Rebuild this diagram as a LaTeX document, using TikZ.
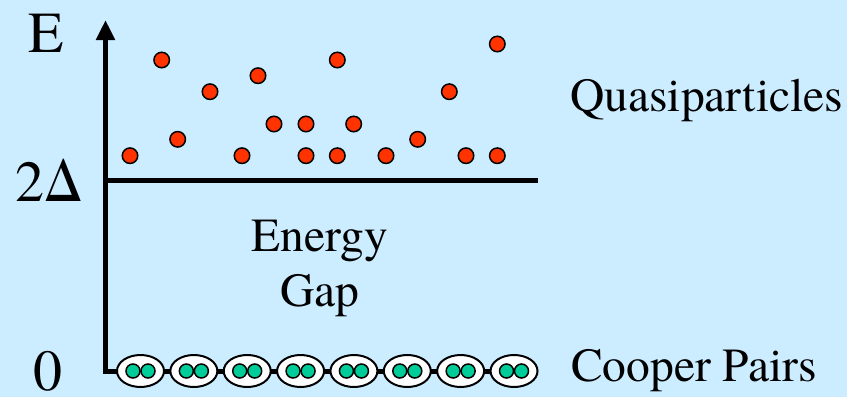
\documentclass[tikz,border=0pt]{standalone}
\usepackage{fontspec}
\setmainfont{texgyretermes}[Extension=.otf, UprightFont=*-regular, BoldFont=*-bold]
\usetikzlibrary{shapes.geometric,arrows.meta}
\definecolor{bg}{HTML}{CCECFF}
\definecolor{qp}{HTML}{FF3300}
\definecolor{cp}{HTML}{00CC99}
\begin{document}
\begin{tikzpicture}[x=1pt,y=-1pt,
  axisline/.style={line width=5pt, line join=miter},
  biglabel/.style={font=\fontsize{58}{64}\selectfont, anchor=base, inner sep=0pt},
  textlabel/.style={font=\fontsize{47.5}{55}\selectfont, inner sep=0pt},
  quasi/.style={circle, draw=black, line width=1.5pt, fill=qp, minimum size=15.5pt, inner sep=0pt},
  pairbox/.style={ellipse, draw=black, line width=2pt, fill=white, minimum width=47pt, minimum height=32pt, inner sep=0pt},
  electron/.style={circle, draw=black, line width=1.5pt, fill=cp, minimum size=14pt, inner sep=0pt}]
\fill[bg] (0,0) rectangle (847,397);
\useasboundingbox (0,0) rectangle (847,397);
% axis coordinates
\coordinate (top) at (105.5,20);
\coordinate (orig) at (105.5,371);
\coordinate (gapL) at (105.5,180);
\coordinate (gapR) at (538,180);
\coordinate (baseR) at (530,371);
% axes
\draw[axisline, {Triangle[width=18pt,length=20pt]}-] (top) -- (orig) -- (baseR);
\draw[axisline] (gapL) -- (gapR);
% Cooper pairs
\foreach \i in {0,...,7} {
  \node[pairbox] (p\i) at (140.5+53.36*\i,371) {};
  \node[electron] (ea\i) at ([xshift=-7.5pt]p\i.center) {};
  \node[electron] (eb\i) at ([xshift=7.5pt]p\i.center) {};
}
% quasiparticles
\foreach \x/\y [count=\n] in {130/155.7, 161.7/60, 177.7/139.3, 210/91.7, 242/155.7, 258/75.7,
  274/124, 306/124, 306/155.7, 337.3/60, 337.3/155.7, 353.7/124, 386/155.7, 417.7/139.3,
  449.3/91.7, 466/155.7, 497.3/155.7, 497.3/44}
  \node[quasi] (q\n) at (\x,\y) {};
% labels
\node[biglabel] (lE) at (46.5,52) {E};
\node[biglabel] (lD) at (49,201.5) {2Δ};
\node[biglabel] (l0) at (48,390) {0};
\node[textlabel, anchor=base west] (lQ) at (570,111.7) {Quasiparticles};
\node[textlabel, anchor=base west] (lC) at (571,381.7) {Cooper Pairs};
\node[textlabel, anchor=base] (lG1) at (320,251.7) {Energy};
\node[textlabel, anchor=base] (lG2) at (320,306.7) {Gap};
\end{tikzpicture}
\end{document}
